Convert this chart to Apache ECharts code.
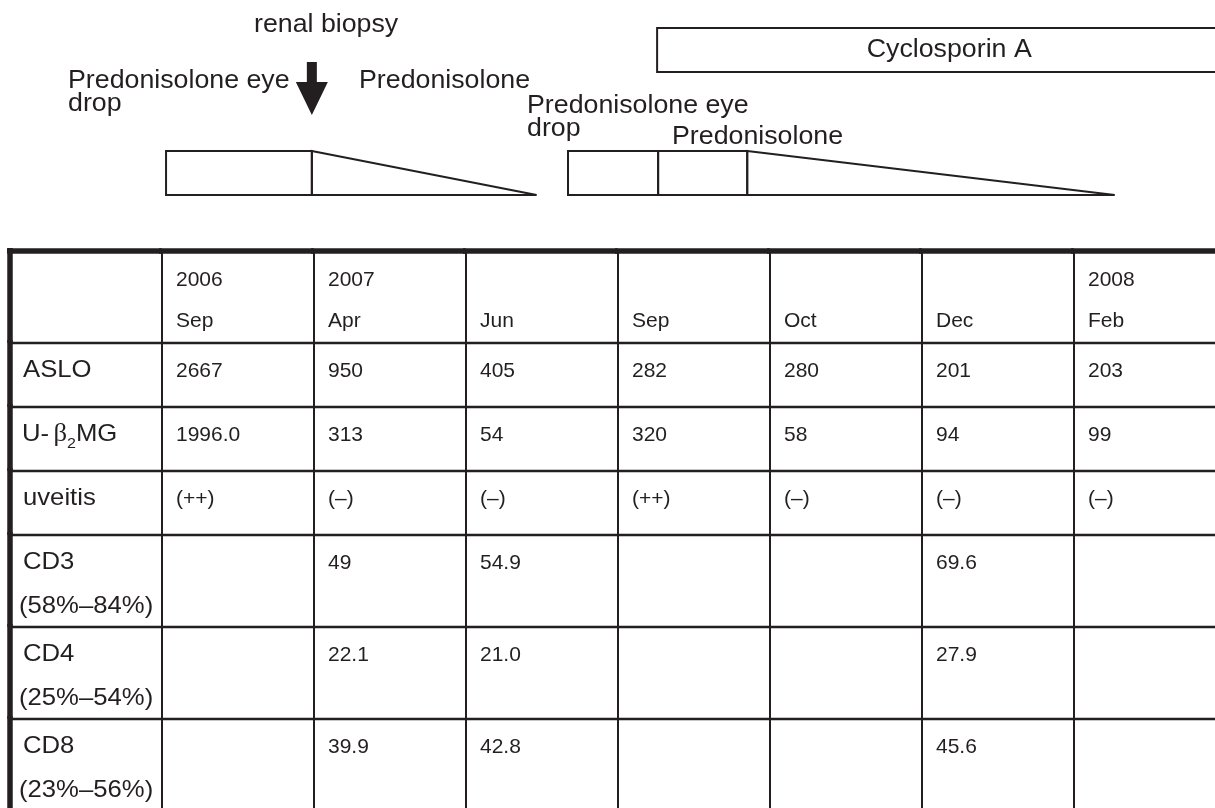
<!DOCTYPE html>
<html>
<head>
<meta charset="utf-8">
<title>Clinical course</title>
<script src="https://cdn.jsdelivr.net/npm/echarts@6/dist/echarts.min.js"></script>
<style>
  html, body { margin: 0; padding: 0; background: #fff; }
  #chart { width: 1215px; height: 808px; }
</style>
</head>
<body>
<div id="chart"></div>
<script>
  // treatment timeline, schematic time (0-120 across the page)
  const regimenNames = ['Predonisolone eye drop', 'Predonisolone', 'Predonisolone eye drop', 'Predonisolone', 'Predonisolone', 'Cyclosporin A'];
  const regimenStart = [16.4, 30.8, 56.1, 65.0, 73.8, 64.9];
  const regimenEnd = [30.8, 53.0, 65.0, 73.8, 110.1, 122.6];
  const regimenShape = ['box', 'taper', 'box', 'box', 'taper', 'box'];
  const regimenLane = [1, 1, 1, 1, 1, 0];
  const biopsyTime = [30.8];

  // table
  const sampleYears = ['2006', '2007', '', '', '', '', '2008'];
  const sampleMonths = ['Sep', 'Apr', 'Jun', 'Sep', 'Oct', 'Dec', 'Feb'];
  const testNames = ['ASLO', 'U-β2MG', 'uveitis', 'CD3', 'CD4', 'CD8'];
  const testRanges = ['', '', '', '(58%–84%)', '(25%–54%)', '(23%–56%)'];
  const aslo = [2667, 950, 405, 282, 280, 201, 203];
  const uB2mg = ['1996.0', 313, 54, 320, 58, 94, 99];
  const uveitis = ['(++)', '(–)', '(–)', '(++)', '(–)', '(–)', '(–)'];
  const cd3 = [null, 49, 54.9, null, null, 69.6, null];
  const cd4 = [null, 22.1, '21.0', null, null, 27.9, null];
  const cd8 = [null, 39.9, 42.8, null, null, 45.6, null];

  const tableRows = [aslo, uB2mg, uveitis, cd3, cd4, cd8];

  // ---- layout ----
  const FONT = '"Liberation Sans", Arial, Helvetica, sans-serif';
  const INK = '#231f20';
  const LABEL_SIZE = 24, VALUE_SIZE = 21, NOTE_SIZE = 25;
  const STRETCH = 1.07;                 // the source lettering is a bit wide
  const LANE_TOP = [28, 151], LANE_BOTTOM = [72, 195];

  const rowLines = [2, 1, 1, 1, 2, 2, 2];
  const rowTop = [0];
  rowLines.forEach(function (n) { rowTop.push(rowTop[rowTop.length - 1] + (n === 2 ? 92 : 64)); });
  const tableHeight = rowTop[rowTop.length - 1];

  const notes = [
    { text: 'renal biopsy', x: 254, base: 34 },
    { text: 'Predonisolone eye', x: 68, base: 90 },
    { text: 'drop', x: 68, base: 113 },
    { text: 'Predonisolone', x: 359, base: 90 },
    { text: 'Predonisolone eye', x: 527, base: 115 },
    { text: 'drop', x: 527, base: 138 },
    { text: 'Predonisolone', x: 672, base: 146 }
  ];

  function seg(x1, y1, x2, y2, w) {
    return { type: 'line', shape: { x1: x1, y1: y1, x2: x2, y2: y2 }, style: { stroke: INK, lineWidth: w } };
  }

  function txt(s, x, base, size, sx, extra) {
    const style = Object.assign({ text: s, fontSize: size, fontFamily: FONT, fill: INK, align: 'left', verticalAlign: 'middle' }, extra || {});
    return { type: 'text', x: x, y: base - 0.35 * size, scaleX: sx, style: style };
  }

  function renderRegimen(params, api) {
    const i = params.dataIndex;
    const lane = api.value(2);
    const a = api.coord([api.value(0), LANE_TOP[lane]]);
    const b = api.coord([api.value(1), LANE_BOTTOM[lane]]);
    const kids = [];
    if (regimenShape[i] === 'taper') {
      kids.push({ type: 'polygon', shape: { points: [[a[0], a[1]], [b[0], b[1]], [a[0], b[1]]] },
        style: { fill: 'none', stroke: INK, lineWidth: 2 } });
    } else {
      kids.push({ type: 'rect', shape: { x: a[0], y: a[1], width: b[0] - a[0], height: b[1] - a[1] },
        style: { fill: 'none', stroke: INK, lineWidth: 2 } });
    }
    if (lane === 0) {
      kids.push({ type: 'text', x: (a[0] + b[0]) / 2, y: (a[1] + b[1]) / 2, scaleX: STRETCH,
        style: { text: regimenNames[i], fontSize: NOTE_SIZE, fontFamily: FONT, fill: INK, align: 'center', verticalAlign: 'middle' } });
    }
    return { type: 'group', children: kids };
  }

  function renderArrow(params, api) {
    const x = api.coord([api.value(0), 0])[0];
    const y = function (v) { return api.coord([0, v])[1]; };
    return {
      type: 'polygon',
      shape: { points: [[x - 5, y(62)], [x + 5, y(62)], [x + 5, y(82)], [x + 16, y(82)], [x, y(115)], [x - 16, y(82)], [x - 5, y(82)]] },
      style: { fill: INK }
    };
  }

  function renderCell(params, api) {
    const c = api.value(0), r = api.value(1);
    const a = api.coord([c, rowTop[r]]);
    const b = api.coord([c + 1, rowTop[r + 1]]);
    const kids = [seg(b[0], a[1], b[0], b[1], 2), seg(a[0], b[1], b[0], b[1], 2.6)];
    if (r === 0) kids.push(seg(a[0] - 3, a[1], b[0], a[1], 5.5));
    if (c === 0) kids.push(seg(a[0], a[1] - 3, a[0], b[1], 5.5));

    const top = a[1];
    if (c === 0) {
      if (r > 0) {
        const name = testNames[r - 1];
        if (name === 'U-β2MG') {
          kids.push({ type: 'text', x: a[0] + 12, y: top + 36 - 0.35 * LABEL_SIZE, scaleX: STRETCH,
            style: { text: '{m|U-}{b|β}{s|2}{m|MG}', fill: INK, align: 'left', verticalAlign: 'middle',
              rich: {
                m: { fontSize: LABEL_SIZE, fontFamily: FONT, fill: INK, lineHeight: 34 },
                b: { fontSize: LABEL_SIZE + 1, fontFamily: '"Liberation Serif", "DejaVu Serif", serif', fill: INK, lineHeight: 34, padding: [0, 0, 0, 4] },
                s: { fontSize: 15, fontFamily: FONT, fill: INK, lineHeight: 12, verticalAlign: 'bottom' }
              } } });
        } else {
          kids.push(txt(name, a[0] + 13, top + 36, LABEL_SIZE, STRETCH));
        }
        if (testRanges[r - 1]) kids.push(txt(testRanges[r - 1], a[0] + 9, top + 80, LABEL_SIZE, STRETCH));
      }
    } else if (r === 0) {
      if (sampleYears[c - 1]) kids.push(txt(sampleYears[c - 1], a[0] + 14, top + 37, VALUE_SIZE, 1));
      kids.push(txt(sampleMonths[c - 1], a[0] + 14, top + 78, VALUE_SIZE, 1));
    } else {
      const v = tableRows[r - 1][c - 1];
      if (v !== null && v !== '') kids.push(txt(String(v), a[0] + 14, top + 36, VALUE_SIZE, 1));
    }
    return { type: 'group', children: kids };
  }

  const regimenData = regimenStart.map(function (s, i) { return [s, regimenEnd[i], regimenLane[i]]; });
  const cellData = [];
  for (let r = 0; r < rowLines.length; r++) {
    for (let c = 0; c <= sampleMonths.length; c++) cellData.push([c, r]);
  }

  const chart = echarts.init(document.getElementById('chart'));
  const option = {
    animation: false,
    backgroundColor: '#fff',
    grid: [
      { left: 0, top: 0, width: 1215, height: 220, outerBoundsMode: 'none' },
      // the table runs off the right edge of the figure
      { left: 10, top: 251, width: 152 * (sampleMonths.length + 1), height: tableHeight, outerBoundsMode: 'none' }
    ],
    xAxis: [
      { gridIndex: 0, type: 'value', min: 0, max: 120, show: false },
      { gridIndex: 1, type: 'value', min: 0, max: sampleMonths.length + 1, show: false }
    ],
    yAxis: [
      { gridIndex: 0, type: 'value', min: 0, max: 220, inverse: true, show: false },
      { gridIndex: 1, type: 'value', min: 0, max: tableHeight, inverse: true, show: false }
    ],
    graphic: notes.map(function (n) {
      return txt(n.text, n.x, n.base, NOTE_SIZE, STRETCH);
    }),
    series: [
      { type: 'custom', name: 'regimen', xAxisIndex: 0, yAxisIndex: 0, clip: false, silent: true,
        renderItem: renderRegimen, data: regimenData },
      { type: 'custom', name: 'renal biopsy', xAxisIndex: 0, yAxisIndex: 0, clip: false, silent: true,
        renderItem: renderArrow, data: biopsyTime.map(function (t) { return [t]; }) },
      { type: 'custom', name: 'table', xAxisIndex: 1, yAxisIndex: 1, clip: false, silent: true,
        renderItem: renderCell, data: cellData }
    ]
  };
  chart.setOption(option);
</script>
</body>
</html>
